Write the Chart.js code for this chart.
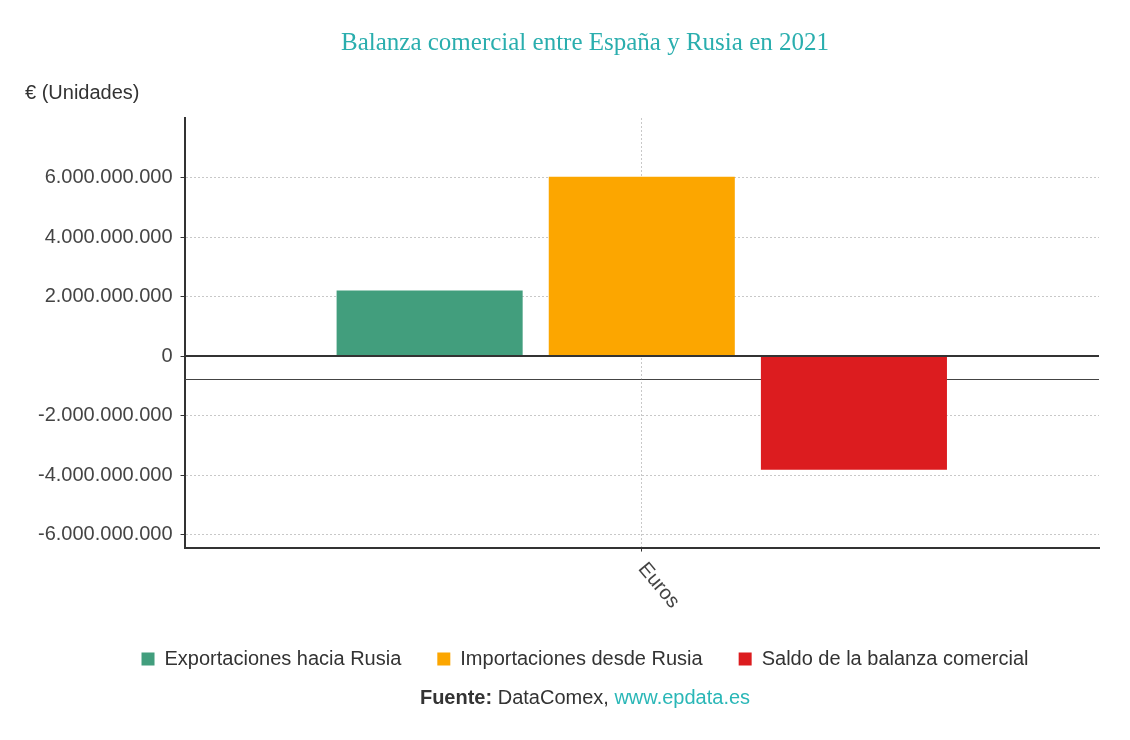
<!DOCTYPE html>
<html>
<head>
<meta charset="utf-8">
<script src="https://cdn.jsdelivr.net/npm/chart.js@4/dist/chart.umd.min.js"></script>
<style>
  html, body { margin: 0; padding: 0; background: #fff; overflow: hidden; }
  #wrap { position: relative; width: 1170px; height: 740px; }
  .txt { position: absolute; font-family: "Liberation Sans", Arial, sans-serif; color: #333; }
  #title { left: 0; width: 1170px; top: 28px; text-align: center; font-family: "Liberation Serif", "Times New Roman", serif; font-size: 25px; color: #2aaeae; }
  #unit { left: 25px; top: 81px; font-size: 20px; }
  #source { left: 0; width: 1170px; top: 686px; text-align: center; font-size: 20px; }
  #source a { color: #2ab7b7; text-decoration: none; }
</style>
</head>
<body>
<div id="wrap">
  <canvas id="barchart"></canvas>
  <div class="txt" id="title">Balanza comercial entre España y Rusia en 2021</div>
  <div class="txt" id="unit">€ (Unidades)</div>
  <div class="txt" id="source"><b>Fuente:</b> DataComex, <a>www.epdata.es</a></div>
</div>
<script>
var categories = ['Euros'];
var seriesNames = ['Exportaciones hacia Rusia', 'Importaciones desde Rusia', 'Saldo de la balanza comercial'];
var exportaciones = [2210000000];
var importaciones = [6030000000];
var saldo = [-3820000000];
var yTicks = [-6000000000, -4000000000, -2000000000, 0, 2000000000, 4000000000, 6000000000];
var refLine = -770000000;

function fmt(v) {
    var s = Math.abs(v).toString().replace(/\B(?=(\d{3})+(?!\d))/g, '.');
    return (v < 0 ? '-' : '') + s;
}

var font = '"Liberation Sans", Arial, sans-serif';

// reference line, zero line, clockwise rotated category label
var extras = {
    id: 'extras',
    afterLayout: function(chart) {
        // center the legend on the whole canvas, not on the padded box
        var lg = chart.legend;
        var shift = (chart.width - (lg.left + lg.right)) / 2;
        lg.left += shift;
        lg.right += shift;
    },
    beforeDatasetsDraw: function(chart) {
        var c = chart.ctx, a = chart.chartArea, y = chart.scales.y;
        var py = Math.round(y.getPixelForValue(refLine)) + 0.5;
        c.save();
        c.strokeStyle = '#444';
        c.lineWidth = 1;
        c.beginPath(); c.moveTo(a.left, py); c.lineTo(a.right, py); c.stroke();
        c.restore();
    },
    afterDraw: function(chart) {
        var c = chart.ctx, x = chart.scales.x, a = chart.chartArea;
        var y0 = chart.scales.y.getPixelForValue(0);
        c.save();
        c.strokeStyle = '#333';
        c.lineWidth = 2;
        c.beginPath(); c.moveTo(a.left, y0); c.lineTo(a.right, y0); c.stroke();
        c.fillStyle = '#444';
        c.font = '20px ' + font;
        c.textAlign = 'left';
        c.textBaseline = 'middle';
        categories.forEach(function(cat, i) {
            c.save();
            c.translate(x.getPixelForTick(i), a.bottom + 18);
            c.rotate(50 * Math.PI / 180);
            c.fillText(cat, 0, 0);
            c.restore();
        });
        c.restore();
    }
};

var ctx = document.getElementById('barchart').getContext('2d');
var myChart = new Chart(ctx, {
    type: 'bar',
    data: {
        labels: categories,
        datasets: [{
            label: seriesNames[0],
            data: exportaciones,
            backgroundColor: '#429e7d'
        }, {
            label: seriesNames[1],
            data: importaciones,
            backgroundColor: '#fca600'
        }, {
            label: seriesNames[2],
            data: saldo,
            backgroundColor: '#dc1c1f'
        }]
    },
    plugins: [extras],
    options: {
        responsive: true,
        maintainAspectRatio: false,
        animation: false,
        layout: { padding: { top: 118, right: 71, left: 30, bottom: 61 } },
        datasets: { bar: { categoryPercentage: 0.696, barPercentage: 0.877 } },
        plugins: {
            title: { display: false },
            tooltip: { enabled: false },
            legend: {
                position: 'bottom',
                labels: {
                    boxWidth: 13,
                    boxHeight: 13,
                    padding: 36,
                    color: '#333',
                    font: { family: font, size: 20 }
                }
            }
        },
        scales: {
            x: {
                grid: {
                    offset: false,
                    color: '#c8c8c8',
                    tickLength: 4,
                    tickColor: '#333'
                },
                border: { display: true, color: '#333', width: 2, dash: [2, 2] },
                ticks: {
                    minRotation: 50,
                    maxRotation: 50,
                    color: 'rgba(0,0,0,0)',
                    font: { family: font, size: 20 }
                }
            },
            y: {
                min: -6440000000,
                max: 8010000000,
                afterBuildTicks: function(scale) {
                    scale.ticks = yTicks.map(function(v) { return { value: v }; });
                },
                grid: {
                    color: '#c8c8c8',
                    tickLength: 4,
                    tickColor: '#333'
                },
                border: { color: '#333', width: 2, dash: [2, 2] },
                ticks: {
                    color: '#444',
                    padding: 8,
                    font: { family: font, size: 20 },
                    callback: function(v) { return fmt(v); }
                }
            }
        }
    }
});
</script>
</body>
</html>
